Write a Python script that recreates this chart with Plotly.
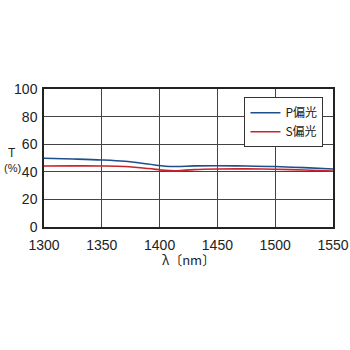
import plotly.graph_objects as go

wavelength = [1300, 1325, 1350, 1370, 1390, 1405, 1415, 1430, 1450, 1475, 1500, 1525, 1550]
p_pol = [49.8, 49.3, 48.6, 47.6, 45.6, 44.0, 43.8, 44.3, 44.4, 44.2, 43.8, 43.0, 42.0]
s_pol = [44.2, 44.3, 44.2, 43.8, 42.4, 41.0, 40.8, 41.6, 42.0, 42.1, 41.9, 41.3, 40.6]
x_ticks = [1300, 1350, 1400, 1450, 1500, 1550]
y_ticks = [0, 20, 40, 60, 80, 100]

fig = go.Figure()
fig.add_trace(go.Scatter(x=wavelength, y=p_pol, mode="lines", name="P偏光",
                         line=dict(color="#1f4e8c", width=1.6, shape="spline")))
fig.add_trace(go.Scatter(x=wavelength, y=s_pol, mode="lines", name="S偏光",
                         line=dict(color="#c8242c", width=1.6, shape="spline")))

font = "Liberation Sans, Arial, Noto Sans CJK JP, sans-serif"
fig.update_layout(
    width=350, height=350,
    margin=dict(l=44, r=17, t=89, b=123, autoexpand=False),
    paper_bgcolor="white", plot_bgcolor="white",
    font=dict(family=font, size=14, color="#222"),
    showlegend=True,
    legend=dict(x=0.967, y=0.94, xanchor="right", yanchor="top",
                bgcolor="white", bordercolor="#333", borderwidth=1,
                font=dict(size=12, family="Noto Sans CJK JP, sans-serif"),
                itemwidth=30, tracegroupgap=0, entrywidth=0),
    xaxis=dict(range=[1300, 1550], tickvals=x_ticks, showgrid=True,
               gridcolor="#444", gridwidth=1, showline=True, linecolor="#222",
               linewidth=1.5, mirror=True, ticks="", zeroline=False,
               automargin=False, ticklabelstandoff=4,
               tickfont=dict(size=14)),
    yaxis=dict(range=[0, 100], tickvals=y_ticks, showgrid=True,
               gridcolor="#444", gridwidth=1, showline=True, linecolor="#222",
               linewidth=1.5, mirror=True, ticks="", zeroline=False,
               automargin=False, ticklabelstandoff=2,
               tickfont=dict(size=14)),
)
fig.add_annotation(text="λ〔nm〕", x=0.5, y=(227 - 259) / 138, xref="paper", yref="paper",
                   showarrow=False, font=dict(size=13, family="Noto Sans CJK JP, sans-serif"),
                   yanchor="middle")
fig.add_annotation(text="T", x=(12 - 44) / 289, y=(227 - 153) / 138,
                   xref="x domain", yref="y domain",
                   showarrow=False, font=dict(size=12, family=font),
                   xanchor="center", yanchor="middle")
fig.add_annotation(text="(%)", x=(12 - 44) / 289, y=(227 - 168) / 138,
                   xref="x domain", yref="y domain",
                   showarrow=False, font=dict(size=11, family=font),
                   xanchor="center", yanchor="middle")
fig.write_html("out.html")
